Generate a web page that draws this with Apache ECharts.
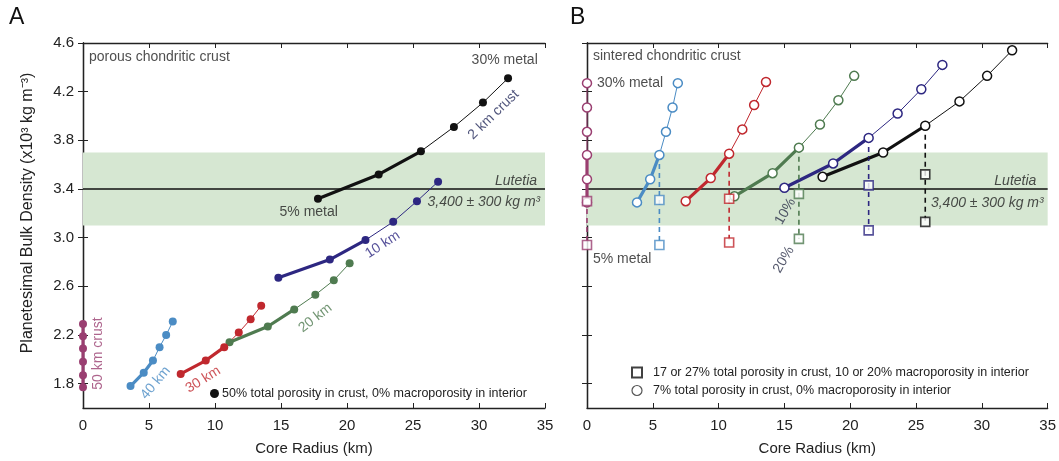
<!DOCTYPE html>
<html>
<head>
<meta charset="utf-8">
<script src="https://cdn.jsdelivr.net/npm/echarts@6/dist/echarts.min.js"></script>
<style>
  html, body { margin: 0; padding: 0; background: #fff; }
  #chart { width: 1059px; height: 461px; }
</style>
</head>
<body>
<div id="chart"></div>
<script>
// Core radius (km) vs. planetesimal bulk density (10^3 kg m^-3)

// Panel A: porous chondritic crust, 5% .. 30% metal along each curve
const porousCrust2km  = [[17.8, 3.32], [22.4, 3.52], [25.6, 3.71], [28.1, 3.91], [30.3, 4.11], [32.2, 4.31]];
const porousCrust10km = [[14.8, 2.67], [18.7, 2.82], [21.4, 2.98], [23.5, 3.13], [25.3, 3.30], [26.9, 3.46]];
const porousCrust20km = [[11.1, 2.14], [14.0, 2.27], [16.0, 2.41], [17.6, 2.53], [19.0, 2.65], [20.2, 2.79]];
const porousCrust30km = [[7.4, 1.88], [9.3, 1.99], [10.7, 2.10], [11.8, 2.22], [12.7, 2.33], [13.5, 2.44]];
const porousCrust40km = [[3.6, 1.78], [4.6, 1.89], [5.3, 1.99], [5.8, 2.10], [6.3, 2.20], [6.8, 2.31]];
const porousCrust50km = [[0, 1.77], [0, 1.87], [0, 1.98], [0, 2.09], [0, 2.19], [0, 2.29]];

// Panel B: sintered chondritic crust, 7% total porosity in crust
const sintered2km  = [[17.9, 3.50], [22.5, 3.70], [25.7, 3.92], [28.3, 4.12], [30.4, 4.33], [32.3, 4.54]];
const sintered10km = [[15.0, 3.41], [18.7, 3.61], [21.4, 3.82], [23.6, 4.02], [25.4, 4.22], [27.0, 4.42]];
const sintered20km = [[11.2, 3.34], [14.1, 3.53], [16.1, 3.74], [17.7, 3.93], [19.1, 4.13], [20.3, 4.33]];
const sintered30km = [[7.5, 3.30], [9.4, 3.49], [10.8, 3.69], [11.8, 3.89], [12.7, 4.09], [13.6, 4.28]];
const sintered40km = [[3.8, 3.29], [4.8, 3.48], [5.5, 3.68], [6.0, 3.87], [6.5, 4.07], [6.9, 4.27]];
const sintered50km = [[0, 3.29], [0, 3.48], [0, 3.68], [0, 3.87], [0, 4.07], [0, 4.27]];

// Panel B: 10% and 20% macroporosity in the interior (squares)
const macroporous2km  = [[25.7, 3.52], [25.7, 3.13]];
const macroporous10km = [[21.4, 3.43], [21.4, 3.06]];
const macroporous20km = [[16.1, 3.36], [16.1, 2.99]];
const macroporous30km = [[10.8, 3.32], [10.8, 2.96]];
const macroporous40km = [[5.5, 3.31], [5.5, 2.94]];
const macroporous50km = [[0, 3.30], [0, 2.94]];

// Lutetia bulk density: 3,400 +/- 300 kg m^-3
const lutetiaDensity = 3.4;
const lutetiaError = 0.3;

// Axis ticks
const radiusTicks = [0, 5, 10, 15, 20, 25, 30, 35];
const densityTicks = [1.8, 2.2, 2.6, 3.0, 3.4, 3.8, 4.2, 4.6];

const COLORS = {
  c2: '#111111', c10: '#2d2781', c20: '#4f7b50',
  c30: '#c0282e', c40: '#4b8cc4', c50: '#9a3f71'
};
const FONT = 'Liberation Sans, Arial, sans-serif';

const chart = echarts.init(document.getElementById('chart'), null, { renderer: 'canvas' });

function frameAxes(gridIndex, showLabels) {
  const tick = { show: true, inside: true, length: 5, lineStyle: { color: '#222', width: 1 } };
  const line = { show: true, lineStyle: { color: '#222', width: 1.3 } };
  const xs = [
    {
      gridIndex, type: 'value', min: 0, max: 35, interval: 5, position: 'bottom',
      axisLine: line, axisTick: tick, splitLine: { show: false },
      axisLabel: { show: true, color: '#222', fontSize: 15, fontFamily: FONT, margin: 10 },
      name: 'Core Radius (km)', nameLocation: 'middle', nameGap: 33,
      nameTextStyle: { color: '#222', fontSize: 15, fontFamily: FONT }
    },
    {
      gridIndex, type: 'value', min: 0, max: 35, interval: 5, position: 'top',
      axisLine: line, axisTick: tick, axisLabel: { show: false }, splitLine: { show: false }
    }
  ];
  const ys = [
    {
      gridIndex, type: 'value', min: 1.6, max: 4.6, position: 'left',
      axisLine: line, splitLine: { show: false },
      axisTick: Object.assign({ customValues: densityTicks }, tick),
      axisLabel: {
        show: showLabels, customValues: densityTicks, color: '#222', fontSize: 15,
        fontFamily: FONT, margin: 9, formatter: v => v.toFixed(1)
      }
    },
    {
      gridIndex, type: 'value', min: 1.6, max: 4.6, position: 'right',
      axisLine: line, splitLine: { show: false },
      axisTick: Object.assign({ customValues: densityTicks }, tick),
      axisLabel: { show: false }
    }
  ];
  return { xs, ys };
}

const fa = frameAxes(0, true);
const fb = frameAxes(1, false);
const xAxis = [fa.xs[0], fa.xs[1], fb.xs[0], fb.xs[1]];
const yAxis = [fa.ys[0], fa.ys[1], fb.ys[0], fb.ys[1]];
// axis indices: panel A -> x0, y0 ; panel B -> x2, y2

const series = [];

// Lutetia reference band and line
function lutetia(xi, yi) {
  series.push({
    type: 'line', xAxisIndex: xi, yAxisIndex: yi, z: 1, silent: true,
    data: [[0, lutetiaDensity], [35, lutetiaDensity]],
    symbol: 'none', lineStyle: { color: '#111', width: 1.5 },
    markArea: {
      silent: true,
      itemStyle: { color: '#d6e7d2' },
      data: [[{ yAxis: lutetiaDensity - lutetiaError }, { yAxis: lutetiaDensity + lutetiaError }]]
    }
  });
}
lutetia(0, 0);
lutetia(2, 2);

// One curve = thin line with markers + thick segment over the first three points
function curve(pts, color, xi, yi, open, name, thickAll) {
  const thickPts = thickAll ? pts : pts.slice(0, 3);
  series.push({
    type: 'line', xAxisIndex: xi, yAxisIndex: yi, z: 3, clip: false,
    data: thickPts, symbol: 'none',
    lineStyle: { color, width: 3.2 }
  });
  series.push({
    type: 'line', xAxisIndex: xi, yAxisIndex: yi, z: 5, clip: false, name,
    data: pts, symbol: 'circle', symbolSize: open ? 9 : 8, showSymbol: true,
    lineStyle: { color, width: 1 },
    itemStyle: open ? { color: '#fff', borderColor: color, borderWidth: 1.5 } : { color, borderWidth: 0 }
  });
}

curve(porousCrust2km, COLORS.c2, 0, 0, false, 'porous');
curve(porousCrust10km, COLORS.c10, 0, 0, false);
curve(porousCrust20km, COLORS.c20, 0, 0, false);
curve(porousCrust30km, COLORS.c30, 0, 0, false);
curve(porousCrust40km, COLORS.c40, 0, 0, false);
curve(porousCrust50km, COLORS.c50, 0, 0, false, undefined, true);

// Macroporous interior: dashed drop from the third circle through both squares
function macro(squares, from, color, xi, yi, name) {
  series.push({
    type: 'line', xAxisIndex: xi, yAxisIndex: yi, z: 4, clip: false,
    data: [from, squares[1]], symbol: 'none',
    lineStyle: { color, width: 1.6, type: [5, 4] }
  });
  series.push({
    type: 'scatter', xAxisIndex: xi, yAxisIndex: yi, z: 6, clip: false, name,
    data: squares, symbol: 'rect', symbolSize: 9,
    itemStyle: { color: '#fff', borderColor: color, borderWidth: 1.6 }
  });
}

const sinteredSets = [
  [sintered50km, macroporous50km, COLORS.c50],
  [sintered40km, macroporous40km, COLORS.c40],
  [sintered30km, macroporous30km, COLORS.c30],
  [sintered20km, macroporous20km, COLORS.c20],
  [sintered10km, macroporous10km, COLORS.c10],
  [sintered2km, macroporous2km, COLORS.c2]
];
sinteredSets.forEach(([pts, sq, color], i) => {
  const isLast = i === sinteredSets.length - 1;
  macro(sq, pts[2], color, 2, 2, isLast ? 'squares' : undefined);
  curve(pts, color, 2, 2, true, isLast ? 'circles' : undefined);
});

// Text annotations anchored in data coordinates
function notes(list, xi, yi) {
  series.push({
    type: 'scatter', xAxisIndex: xi, yAxisIndex: yi, z: 10, silent: true, clip: false,
    symbolSize: 1, itemStyle: { color: 'transparent' },
    data: list.map(n => ({
      value: [n.x, n.y],
      label: {
        show: true, position: 'inside', formatter: n.text,
        rotate: n.rot || 0, align: n.align || 'center', verticalAlign: 'middle',
        color: n.color || '#222', fontSize: n.size || 14, fontFamily: FONT,
        fontStyle: n.italic ? 'italic' : 'normal'
      }
    }))
  });
}

notes([
  { x: 0.45, y: 4.485, text: 'porous chondritic crust', align: 'left' },
  { x: 34.45, y: 4.46, text: '30% metal', align: 'right' },
  { x: 31.1, y: 4.01, text: '2 km crust', rot: 44, color: '#1f2658' },
  { x: 17.1, y: 3.206, text: '5% metal' },
  { x: 34.4, y: 3.463, text: 'Lutetia', align: 'right', italic: true },
  { x: 26.1, y: 3.29, text: '3,400 ± 300 kg m³', align: 'left', italic: true },
  { x: 22.7, y: 2.943, text: '10 km', rot: 33, color: COLORS.c10 },
  { x: 17.6, y: 2.34, text: '20 km', rot: 38, color: COLORS.c20 },
  { x: 9.1, y: 1.833, text: '30 km', rot: 32, color: COLORS.c30 },
  { x: 5.5, y: 1.806, text: '40 km', rot: 50, color: COLORS.c40 },
  { x: 1.16, y: 2.047, text: '50 km crust', rot: 90, color: COLORS.c50 }
], 0, 0);

notes([
  { x: 0.45, y: 4.49, text: 'sintered chondritic crust', align: 'left' },
  { x: 0.76, y: 4.266, text: '30% metal', align: 'left' },
  { x: 0.45, y: 2.82, text: '5% metal', align: 'left' },
  { x: 15.08, y: 3.216, text: '10%', rot: 60, color: '#2a3048' },
  { x: 14.95, y: 2.82, text: '20%', rot: 60, color: '#2a3048' },
  { x: 34.14, y: 3.465, text: 'Lutetia', align: 'right', italic: true },
  { x: 26.13, y: 3.283, text: '3,400 ± 300 kg m³', align: 'left', italic: true }
], 2, 2);

chart.setOption({
  animation: false,
  backgroundColor: '#fff',
  textStyle: { fontFamily: FONT },
  grid: [
    { left: 83, top: 43, width: 462, height: 365 },
    { left: 587, top: 43, width: 464, height: 365 }
  ],
  xAxis, yAxis, series,
  legend: [
    {
      left: 205, top: 382, orient: 'vertical', itemWidth: 9, itemHeight: 9, itemGap: 11,
      selectedMode: false,
      textStyle: { color: '#222', fontSize: 12.5, fontFamily: FONT, padding: [0, 0, 0, -2] },
      data: [{ name: 'porous', icon: 'circle', itemStyle: { color: '#111' } }],
      formatter: () => '50% total porosity in crust, 0% macroporosity in interior'
    },
    {
      left: 626, top: 361, orient: 'vertical', itemWidth: 10, itemHeight: 10, itemGap: 5,
      selectedMode: false,
      textStyle: { color: '#222', fontSize: 12.5, fontFamily: FONT, padding: [0, 0, 0, 6] },
      data: [
        { name: 'squares', icon: 'rect', itemStyle: { color: '#fff', borderColor: '#111', borderWidth: 2 } },
        { name: 'circles', icon: 'circle', itemStyle: { color: '#fff', borderColor: '#555', borderWidth: 1.2 } }
      ],
      formatter: n => n === 'squares'
        ? '17 or 27% total porosity in crust, 10 or 20% macroporosity in interior'
        : '7% total porosity in crust, 0% macroporosity in interior'
    }
  ],
  graphic: [
    { type: 'text', left: 9, top: 6, style: { text: 'A', fontSize: 23, fontFamily: FONT, fill: '#111' } },
    { type: 'text', left: 570, top: 6, style: { text: 'B', fontSize: 23, fontFamily: FONT, fill: '#111' } },
    {
      type: 'text', x: 28, y: 213, rotation: Math.PI / 2,
      style: {
        text: 'Planetesimal Bulk Density (x10³ kg m⁻³)', fontSize: 16, fontFamily: FONT,
        fill: '#222', align: 'center', verticalAlign: 'middle'
      }
    }
  ]
});
</script>
</body>
</html>
